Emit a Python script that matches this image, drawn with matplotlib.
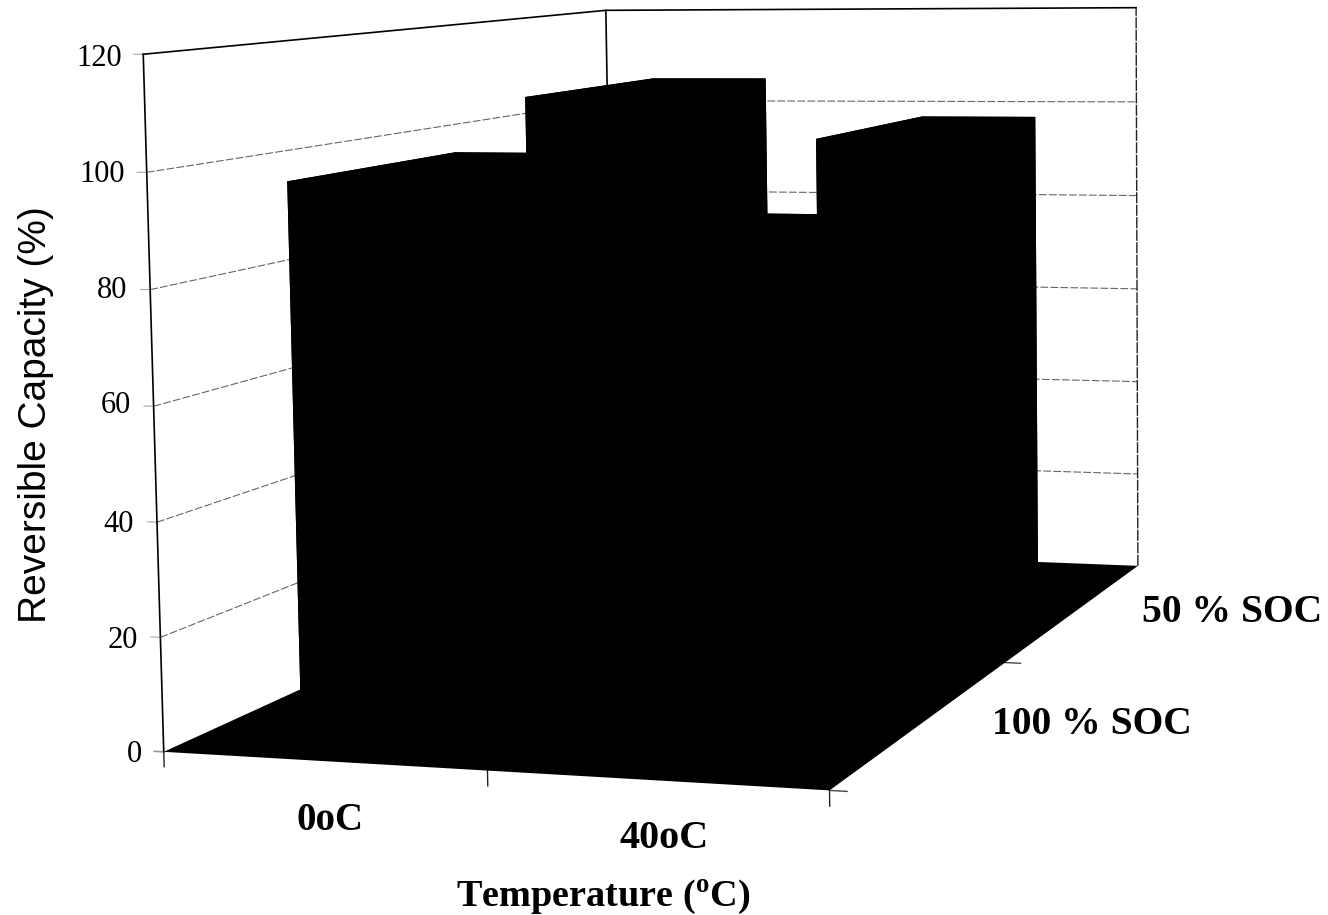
import numpy as np
import matplotlib
matplotlib.use('Agg')
import matplotlib.pyplot as plt

W, H = 1328, 915

# values
temps = ['0oC', '40oC']
socs = ['100 % SOC', '50 % SOC']
cap_100soc = [97.2, 86.2]
cap_50soc = [105.7, 96.8]
z_ticks = [0, 20, 40, 60, 80, 100, 120]

plt.rcParams['mathtext.fontset'] = 'custom'
plt.rcParams['mathtext.bf'] = 'Liberation Serif:bold'
plt.rcParams['mathtext.rm'] = 'Liberation Serif:bold'

fig = plt.figure(figsize=(W/100, H/100), dpi=100)
ax = fig.add_subplot(projection='3d', computed_zorder=False)

# camera fitted to the corners of the box in the picture
cx, cy, S = 681.15, 360.43, 1442.04
ax.set_proj_type('persp', focal_length=0.5289)
ax.view_init(6.2464, -71.3334, 0.8484)
ax.set_box_aspect((1, 1.9204, 1.002))
ax.set_position([(cx-S/2)/W, 1-(cy+S/2)/H, S/W, S/H])
ax.set_axis_off()

# walls
grid = dict(color='#666666', lw=0.8, ls=(0, (7, 2)), zorder=1)
for z in z_ticks[1:-1]:
    ax.plot([0, 0], [0, 2], [z, z], **grid)
    ax.plot([0, 2], [2, 2], [z, z], **grid)
    ax.plot([-0.03, 0], [0, 0], [z, z], color='#aaaaaa', lw=0.8, zorder=1)
frame = dict(color='black', lw=1.2, zorder=2)
ax.plot([0, 0, 2], [0, 2, 2], [120, 120, 120], **frame)
ax.plot([0, 0], [0, 0], [0, 120], **frame)
ax.plot([0, 0], [2, 2], [0, 120], **frame)
ax.plot([2, 2], [2, 2], [0, 120], color='#222222', lw=1.0, ls=(0, (8, 1)), zorder=2)
ax.plot([-0.03, 0], [0, 0], [120, 120], color='#aaaaaa', lw=0.8, zorder=1)
ax.plot([-0.03, 0], [0, 0], [0, 0], color='#999999', lw=1.2, zorder=1)

# floor, all black in the scan
ax.plot_surface(np.array([[0, 2], [0, 2]]), np.array([[0, 0], [2, 2]]),
                np.zeros((2, 2)), color='black', shade=False, zorder=3)

# axis ticks under the floor
for x in [0, 1, 2]:
    ax.plot([x, x], [0, 0], [-2.6, 0], color='#222222', lw=1.0, zorder=2)
for y in [0, 1]:
    ax.plot([2, 2.05], [y, y], [0, 0], color='#444444', lw=1.0, zorder=2)

# bars, back row first
bar = dict(color='black', edgecolor='black', shade=False)
ax.bar3d(0.292, 1.167, 0, 0.424, 0.668, cap_50soc[0], zorder=4, **bar)
ax.bar3d(1.228, 1.289, 0, 0.416, 0.677, cap_50soc[1], zorder=4, **bar)
ax.bar3d(0.297, 0.16, 0, 0.419, 0.67, cap_100soc[0], zorder=5, **bar)
ax.bar3d(1.228, 0.16, 0, 0.416, 0.67, cap_100soc[1], zorder=5, **bar)

ax.set_xlim(0, 2)
ax.set_ylim(0, 2)
ax.set_zlim(0, 120)

# z tick labels sit just left of the left wall
tick_right = [142, 138, 134, 131, 127, 125, 122]
tick_y = [755, 640, 524, 406, 290, 175, 58]
for z, px, py in zip(z_ticks, tick_right, tick_y):
    fig.text(px/W, 1-py/H, str(z), ha='right', va='center', family='Liberation Serif', fontsize=22)

def label(px, py, s, size=28):
    fig.text(px/W, 1-py/H, s, ha='center', va='center', family='Liberation Serif',
             fontweight='bold', fontsize=size)

label(330, 820, temps[0])
label(664, 838, temps[1], 29)
label(1092, 725, socs[0], 28.5)
label(1232, 613, socs[1], 28.5)
label(603, 897, 'Temperature ($^{\\mathbf{o}}$C)', 27.5)
fig.text(36/W, 1-415/H, 'Reversible Capacity (%)', rotation=90, ha='center', va='center',
         family='Liberation Sans', fontsize=28)

fig.savefig('out.png', dpi=100)
